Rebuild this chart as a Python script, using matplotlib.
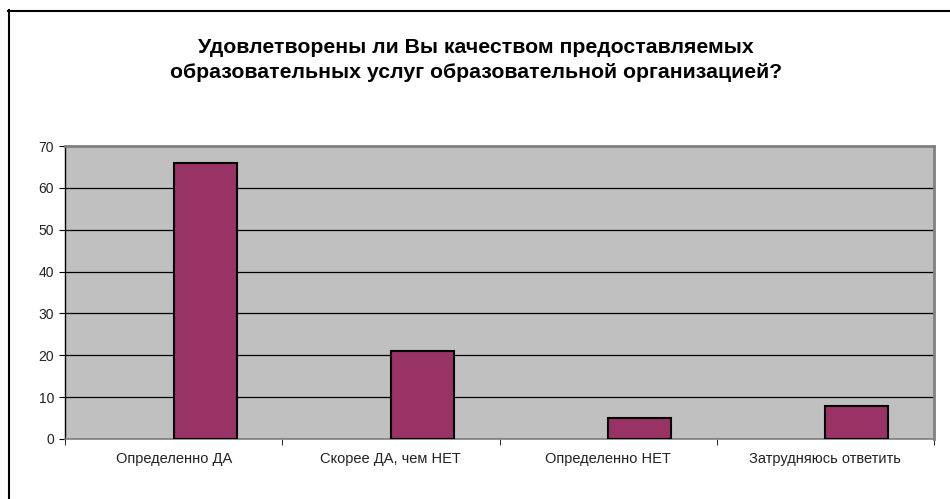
import matplotlib
matplotlib.use("Agg")
import matplotlib.pyplot as plt
from matplotlib.lines import Line2D
import numpy as np

plt.rcParams['font.family'] = ['Liberation Sans', 'DejaVu Sans']

title = "Удовлетворены ли Вы качеством предоставляемых\nобразовательных услуг образовательной организацией?"
categories = ["Определенно ДА", "Скорее ДА, чем НЕТ", "Определенно НЕТ", "Затрудняюсь ответить"]
values = [66, 21, 5, 8]
yticks = [0, 10, 20, 30, 40, 50, 60, 70]

fig = plt.figure(figsize=(9.5, 4.99), dpi=100)
fig.patch.set_facecolor('white')

W, H = 950, 499
ax = fig.add_axes([65 / W, (H - 439) / H, (934 - 65) / W, (439 - 146) / H])
ax.set_facecolor('#C0C0C0')

x = np.arange(len(categories))
ax.bar(x, values, width=0.29, align='edge', color='#993366', edgecolor='black', linewidth=1.5, zorder=3)

ax.set_xlim(-0.5, len(categories) - 0.5)
ax.set_ylim(0, 70)
ax.set_yticks(yticks)
ax.set_yticklabels([str(v) for v in yticks], fontsize=10, color='#222222')
ax.yaxis.grid(True, color='black', linewidth=0.9, zorder=1)
ax.set_axisbelow(True)

ax.set_xticks(x)
ax.set_xticklabels(categories, fontsize=10.5, color='#222222')
ax.tick_params(axis='x', length=0, pad=9)
ax.set_xticks(np.arange(-0.5, len(categories)), minor=True)
ax.tick_params(axis='x', which='minor', length=4, direction='out', color='black')
ax.tick_params(axis='y', length=4, direction='out', color='black', pad=4)

for s in ['top', 'right']:
    ax.spines[s].set_color('#808080')
    ax.spines[s].set_linewidth(2)
ax.spines['left'].set_color('black')
ax.spines['left'].set_linewidth(1)
ax.spines['bottom'].set_color('#808080')
ax.spines['bottom'].set_linewidth(1.2)

fig.text(476 / W, 1 - 60 / H, title, ha='center', va='center', fontsize=15.3, fontweight='bold',
         linespacing=1.45)

# chart frame (left and top edges visible)
fig.add_artist(Line2D([8.5 / W, 8.5 / W], [0, 1 - 10 / H], color='black', linewidth=1.5, transform=fig.transFigure))
fig.add_artist(Line2D([8 / W, 1], [1 - 10.5 / H, 1 - 10.5 / H], color='black', linewidth=1.5, transform=fig.transFigure))

fig.savefig('out.png', dpi=100, facecolor='white')
